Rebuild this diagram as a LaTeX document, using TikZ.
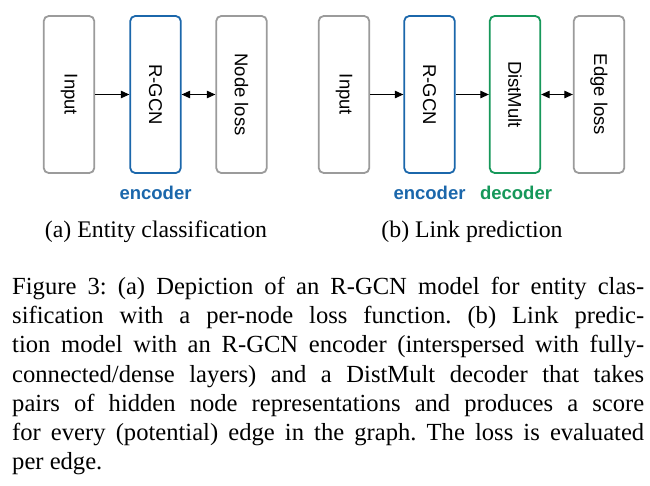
\documentclass[tikz,border=0pt]{standalone}
\usepackage{fontspec}
\setmainfont{Liberation Serif}
\setsansfont{Liberation Sans}
\usetikzlibrary{arrows.meta}
\definecolor{boxgray}{HTML}{9B9B9B}
\definecolor{encblue}{HTML}{1B67AB}
\definecolor{decgreen}{HTML}{16985A}
\tikzset{
  box/.style={draw=boxgray, line width=1.8pt, rounded corners=5pt, minimum width=50.5pt, minimum height=157pt, inner sep=0pt, font=\sffamily\fontsize{18.5}{22}\selectfont, fill=white},
  enc/.style={box, draw=encblue},
  dec/.style={box, draw=decgreen},
  arr/.style={line width=1pt, -{Triangle[length=8.5pt,width=7.5pt]}},
  darr/.style={line width=1pt, {Triangle[length=8.5pt,width=7.5pt]}-{Triangle[length=8.5pt,width=7.5pt]}},
  tag/.style={font=\sffamily\bfseries\fontsize{18.5}{22}\selectfont, anchor=base, inner sep=0pt},
  sub/.style={font=\fontsize{23.8}{29}\selectfont, anchor=base, inner sep=0pt}
}
\begin{document}
\begin{tikzpicture}[x=1pt, y=-1pt]
\useasboundingbox (0,0) rectangle (650,485);
% (a)
\node[box] (ina) at (69,94.5) {\rotatebox{-90}{Input}};
\node[enc] (rgcna) at (155.5,94.5) {\rotatebox{-90}{R-GCN}};
\node[box] (nloss) at (241.5,94.5) {\rotatebox{-90}{Node loss}};
\draw[arr] (ina) -- (rgcna);
\draw[darr] (rgcna) -- (nloss);
\node[tag, text=encblue] (enca) at (155.5,199) {encoder};
\node[sub] (capa) at (156,237.5) {(a) Entity classification};
% (b)
\node[box] (inb) at (344,94.5) {\rotatebox{-90}{Input}};
\node[enc] (rgcnb) at (429.5,94.5) {\rotatebox{-90}{R-GCN}};
\node[dec] (dist) at (515,94.5) {\rotatebox{-90}{DistMult}};
\node[box] (eloss) at (599,94.5) {\rotatebox{-90}{Edge loss}};
\draw[arr] (inb) -- (rgcnb);
\draw[arr] (rgcnb) -- (dist);
\draw[darr] (dist) -- (eloss);
\node[tag, text=encblue] (encb) at (429.5,199) {encoder};
\node[tag, text=decgreen] (decb) at (516,199) {decoder};
\node[sub] (capb) at (472,237.5) {(b) Link prediction};
% caption
\node[anchor=north west, inner sep=0pt, text width=632pt, align=justify, font=\fontsize{24.6}{29.2}\selectfont] (cap) at (12,277) {\frenchspacing
Figure 3: (a) Depiction of an R-GCN model for entity clas-\linebreak
sification with a per-node loss function. (b) Link predic-\linebreak
tion model with an R-GCN encoder (interspersed with fully-\linebreak
connected/dense layers) and a DistMult decoder that takes\linebreak
pairs of hidden node representations and produces a score\linebreak
for every (potential) edge in the graph. The loss is evaluated\linebreak
per edge.};
\end{tikzpicture}
\end{document}
